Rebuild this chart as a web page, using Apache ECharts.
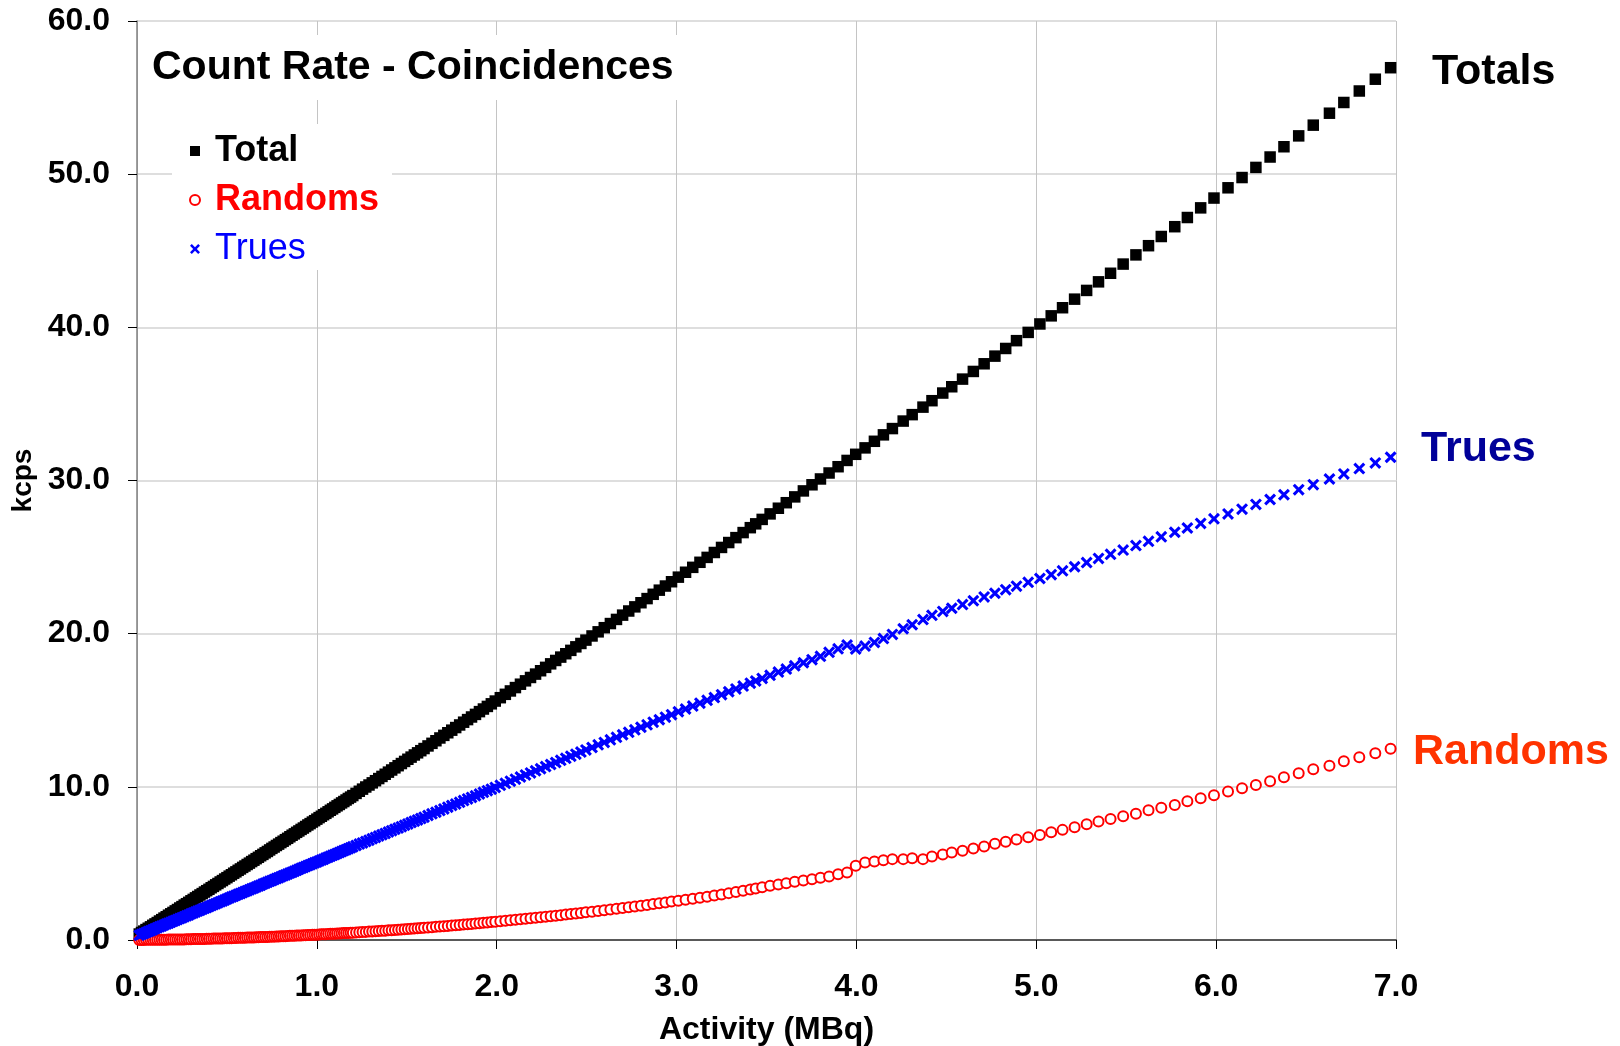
<!DOCTYPE html>
<html>
<head>
<meta charset="utf-8">
<title>Count Rate - Coincidences</title>
<script src="https://cdn.jsdelivr.net/npm/echarts@6.0.0/dist/echarts.min.js"></script>
<style>
html,body{margin:0;padding:0;background:#fff;}
#chart{width:1620px;height:1046px;}
</style>
</head>
<body>
<div id="chart"></div>
<script>
//activity (MBq) of each measurement
var activity=[
0.0125,0.025,0.0375,0.05,0.0625,0.075,0.0875,0.1,
0.1125,0.125,0.1375,0.15,0.1625,0.175,0.1875,0.2,
0.2125,0.225,0.2375,0.25,0.2625,0.275,0.2875,0.3,
0.3125,0.325,0.3375,0.35,0.3625,0.375,0.3875,0.4,
0.4125,0.425,0.4375,0.45,0.4625,0.475,0.4875,0.5,
0.5125,0.525,0.5375,0.55,0.5625,0.575,0.5875,0.6,
0.6125,0.625,0.6375,0.65,0.6625,0.675,0.6875,0.7,
0.7125,0.725,0.7375,0.75,0.7625,0.775,0.7875,0.8,
0.8125,0.825,0.8375,0.85,0.8625,0.875,0.8875,0.9,
0.9125,0.925,0.9375,0.95,0.9625,0.975,0.9875,1.0,
1.0125,1.025,1.0375,1.05,1.0625,1.075,1.0875,1.1,
1.1125,1.125,1.1375,1.15,1.1625,1.175,1.1875,1.2,
1.218,1.236,1.254,1.272,1.29,1.308,1.326,1.344,1.362,1.38,1.398,1.416,1.434,1.452,1.47,1.488,1.506,1.524,1.542,1.56,1.578,1.596,
1.618,1.64,1.662,1.684,1.706,1.728,1.75,1.772,1.794,1.816,1.838,1.86,1.882,1.904,1.926,1.948,1.97,1.992,
2.02,2.048,2.076,2.104,2.132,2.16,2.188,2.216,2.244,2.272,2.3,2.328,2.356,2.384,2.412,2.44,2.468,2.496,
2.53,2.564,2.598,2.632,2.666,2.7,2.734,2.768,2.802,2.836,2.87,2.904,2.938,2.972,
3.01,3.05,3.09,3.13,3.17,3.21,3.25,3.29,3.33,3.37,3.41,3.44,
3.476,3.52,3.566,3.61,3.657,3.705,3.753,3.8,3.848,3.898,3.948,3.996,4.048,4.1,4.15,4.2,4.26,4.31,4.37,4.42,4.48,4.53,4.59,4.65,4.71,4.77,
4.83,4.89,4.955,
5.02,5.083,5.146,5.213,5.28,5.346,5.413,5.483,5.554,5.624,5.695,5.77,5.84,5.914,5.988,6.066,6.144,6.221,6.3,6.377,6.459,6.54,6.63,6.71,6.796,6.885,6.97
];
//kcps
var totals=[
0.39,0.49,0.58,0.68,0.77,0.86,0.96,1.05,1.14,1.24,
1.33,1.43,1.52,1.62,1.71,1.80,1.90,1.99,2.09,2.18,
2.28,2.37,2.46,2.56,2.65,2.75,2.84,2.94,3.03,3.13,
3.22,3.31,3.41,3.50,3.60,3.69,3.79,3.88,3.98,4.07,
4.17,4.26,4.36,4.45,4.55,4.64,4.74,4.83,4.93,5.02,
5.12,5.21,5.31,5.40,5.50,5.59,5.69,5.78,5.88,5.98,
6.07,6.17,6.26,6.36,6.45,6.55,6.64,6.74,6.84,6.93,
7.03,7.12,7.22,7.31,7.41,7.51,7.60,7.70,7.79,7.89,
7.99,8.08,8.18,8.27,8.37,8.47,8.56,8.66,8.76,8.85,
8.95,9.04,9.14,9.24,9.33,9.43,
9.57,9.71,9.85,9.99,10.12,10.26,10.40,10.54,10.68,10.82,10.96,11.10,11.24,11.38,11.52,11.66,11.80,11.94,12.08,12.22,12.36,12.50,
12.67,12.84,13.01,13.19,13.36,13.53,13.70,13.87,14.04,14.22,14.39,14.56,14.73,14.91,15.08,15.25,15.42,15.60,
15.82,16.04,16.26,16.48,16.70,16.92,17.14,17.36,17.58,17.80,18.03,18.25,18.47,18.69,18.91,19.14,19.36,19.58,
19.85,20.12,20.39,20.66,20.93,21.21,21.48,21.75,22.02,22.29,22.57,22.84,23.11,23.39,
23.69,24.01,24.33,24.66,24.98,25.30,25.63,25.95,26.27,26.60,26.92,27.17,
27.46,27.82,28.19,28.55,28.93,29.32,29.72,30.10,30.49,30.90,31.31,31.71,32.13,32.56,32.98,33.39,33.88,34.30,34.79,35.21,35.71,36.12,36.62,37.12,37.62,38.12,
38.62,39.13,39.67,
40.22,40.75,41.28,41.84,42.41,42.97,43.53,44.13,44.73,45.33,45.93,46.57,47.17,47.80,48.44,49.11,49.78,50.44,51.12,51.79,52.50,53.20,53.98,54.68,55.43,56.20,56.95
];
var randoms=[
0.00,0.00,0.00,0.01,0.01,0.01,0.01,0.01,0.01,0.02,
0.02,0.02,0.02,0.03,0.03,0.03,0.03,0.04,0.04,0.04,
0.04,0.05,0.05,0.05,0.06,0.06,0.06,0.07,0.07,0.07,
0.08,0.08,0.08,0.09,0.09,0.10,0.10,0.10,0.11,0.11,
0.12,0.12,0.13,0.13,0.14,0.14,0.15,0.15,0.16,0.16,
0.17,0.17,0.18,0.18,0.19,0.19,0.20,0.20,0.21,0.22,
0.22,0.23,0.23,0.24,0.25,0.25,0.26,0.27,0.27,0.28,
0.29,0.29,0.30,0.31,0.31,0.32,0.33,0.34,0.34,0.35,
0.36,0.37,0.37,0.38,0.39,0.40,0.40,0.41,0.42,0.43,
0.44,0.45,0.45,0.46,0.47,0.48,
0.49,0.51,0.52,0.53,0.55,0.56,0.57,0.59,0.60,0.61,0.63,0.64,0.66,0.67,0.69,0.70,0.72,0.73,0.75,0.76,0.78,0.80,
0.82,0.84,0.86,0.88,0.90,0.92,0.94,0.96,0.98,1.01,1.03,1.05,1.07,1.10,1.12,1.14,1.17,1.19,
1.22,1.25,1.29,1.32,1.35,1.38,1.42,1.45,1.48,1.52,1.55,1.59,1.62,1.66,1.70,1.73,1.77,1.81,
1.85,1.90,1.95,1.99,2.04,2.09,2.14,2.19,2.24,2.29,2.35,2.40,2.45,2.51,
2.57,2.63,2.70,2.76,2.83,2.90,2.97,3.06,3.14,3.22,3.30,3.37,
3.45,3.54,3.62,3.71,3.80,3.88,3.97,4.06,4.14,4.30,4.40,4.84,5.06,5.12,5.21,5.28,5.28,5.34,5.28,5.45,5.58,5.71,5.82,5.97,6.10,6.28,
6.42,6.56,6.71,
6.86,7.04,7.19,7.36,7.56,7.73,7.90,8.08,8.25,8.47,8.64,8.82,9.06,9.26,9.45,9.69,9.91,10.12,10.37,10.63,10.88,11.15,11.38,11.67,11.93,12.19,12.49
];
var trues=[
0.31,0.37,0.43,0.49,0.55,0.61,0.67,0.74,0.80,0.86,
0.92,0.98,1.04,1.10,1.16,1.22,1.28,1.34,1.40,1.46,
1.52,1.58,1.64,1.71,1.77,1.83,1.89,1.95,2.01,2.07,
2.13,2.19,2.25,2.31,2.37,2.43,2.49,2.55,2.61,2.68,
2.74,2.80,2.86,2.92,2.98,3.04,3.10,3.16,3.22,3.28,
3.34,3.40,3.46,3.52,3.58,3.65,3.71,3.77,3.83,3.89,
3.95,4.01,4.07,4.13,4.19,4.25,4.31,4.37,4.43,4.49,
4.55,4.62,4.68,4.74,4.80,4.86,4.92,4.98,5.04,5.10,
5.16,5.22,5.28,5.35,5.41,5.47,5.53,5.59,5.65,5.71,
5.77,5.84,5.90,5.96,6.02,6.08,
6.17,6.26,6.34,6.43,6.52,6.61,6.70,6.79,6.87,6.96,7.05,7.14,7.23,7.31,7.40,7.49,7.58,7.67,7.76,7.84,7.93,8.02,
8.13,8.24,8.34,8.45,8.56,8.67,8.78,8.88,8.99,9.10,9.21,9.31,9.42,9.53,9.64,9.75,9.85,9.96,
10.10,10.23,10.37,10.50,10.64,10.78,10.91,11.05,11.18,11.32,11.46,11.59,11.73,11.86,12.00,12.13,12.27,12.41,
12.57,12.74,12.90,13.07,13.23,13.40,13.56,13.72,13.89,14.05,14.22,14.38,14.55,14.71,
14.90,15.08,15.27,15.46,15.65,15.83,16.02,16.21,16.39,16.58,16.77,16.91,
17.08,17.28,17.49,17.69,17.90,18.10,18.30,18.52,18.78,19.01,19.26,19.00,19.19,19.43,19.68,19.95,20.32,20.58,20.92,21.20,21.45,21.66,21.90,22.15,22.40,22.64,
22.87,23.10,23.35,
23.60,23.85,24.10,24.37,24.64,24.91,25.18,25.46,25.75,26.03,26.32,26.62,26.90,27.20,27.50,27.82,28.13,28.44,28.76,29.07,29.40,29.73,30.10,30.43,30.78,31.15,31.52
];
var seriesNames=['Total','Randoms','Trues'];
//curve labels at the right of the plot
var sideLabels=['Totals','Trues','Randoms'];

var fontArial='"Liberation Sans", Arial, Helvetica, sans-serif';
//x mark
var crossPath='path://M0,1.8L1.8,0L5,3.2L8.2,0L10,1.8L6.8,5L10,8.2L8.2,10L5,6.8L1.8,10L0,8.2L3.2,5Z';

function toPoints(ys){
    var arr=[];
    var n=Math.min(activity.length,ys.length);
    for(var i=0;i<n;i++){
        arr.push([activity[i],ys[i]]);
    }
    return arr;
}

function createChart(){
    var chart=echarts.init(document.getElementById('chart'));
    var option={
        animation:false,
        backgroundColor:'#fff',
        textStyle:{fontFamily:fontArial},
        title:{
            text:'Count Rate - Coincidences',
            left:140,
            top:35,
            padding:[8,12,8,12],
            backgroundColor:'#fff',
            textStyle:{fontFamily:fontArial,fontSize:41,fontWeight:'bold',color:'#000',lineHeight:49}
        },
        legend:{
            orient:'vertical',
            left:172,
            top:124,
            padding:[6,13,0,17],
            backgroundColor:'#fff',
            itemWidth:10,
            itemHeight:10,
            itemGap:7,
            selectedMode:false,
            textStyle:{fontFamily:fontArial,fontSize:36,lineHeight:42,padding:[0,0,0,10]},
            data:[
                {name:seriesNames[0],icon:'rect',textStyle:{color:'#000',fontWeight:'bold'}},
                {name:seriesNames[1],icon:'circle',textStyle:{color:'#ff0000',fontWeight:'bold'}},
                {name:seriesNames[2],icon:crossPath,textStyle:{color:'#0000ff',fontWeight:'normal'}}
            ]
        },
        //fixed plot box, no auto shrinking for the labels
        grid:{left:137,top:21,width:1259,height:919,containLabel:false,outerBoundsMode:'none'},
        xAxis:{
            type:'value',
            min:0,
            max:7,
            interval:1,
            name:'Activity (MBq)',
            nameLocation:'middle',
            nameGap:74,
            nameTextStyle:{fontFamily:fontArial,fontSize:32,fontWeight:'bold',color:'#000'},
            axisLine:{show:true,onZero:false,lineStyle:{color:'#595959',width:2}},
            axisTick:{show:true,inside:false,length:9,lineStyle:{color:'#000',width:1}},
            axisLabel:{
                margin:31,
                fontFamily:fontArial,fontSize:32,fontWeight:'bold',color:'#000',
                formatter:function(v){return v.toFixed(1);}
            },
            splitLine:{show:true,lineStyle:{color:'#c4c4c4',width:1}}
        },
        yAxis:{
            type:'value',
            min:0,
            max:60,
            interval:10,
            name:'kcps',
            nameLocation:'middle',
            nameGap:93,
            nameTextStyle:{fontFamily:fontArial,fontSize:28,fontWeight:'bold',color:'#000'},
            axisLine:{show:true,onZero:false,lineStyle:{color:'#808080',width:1.5}},
            axisTick:{show:true,inside:false,length:9,lineStyle:{color:'#000',width:1}},
            axisLabel:{
                margin:27,
                fontFamily:fontArial,fontSize:32,fontWeight:'bold',color:'#000',
                formatter:function(v){return v.toFixed(1);}
            },
            splitLine:{show:true,lineStyle:{color:'#dedede',width:2}}
        },
        graphic:[
            {type:'text',x:1432,y:72,style:{text:sideLabels[0],fill:'#000',font:'bold 43px '+fontArial,verticalAlign:'middle'}},
            {type:'text',x:1421,y:449,style:{text:sideLabels[1],fill:'#000099',font:'bold 43px '+fontArial,verticalAlign:'middle'}},
            {type:'text',x:1413,y:752,style:{text:sideLabels[2],fill:'#ff3300',font:'bold 43px '+fontArial,verticalAlign:'middle'}}
        ],
        series:[
            {
                name:seriesNames[0],
                type:'scatter',
                symbol:'rect',
                symbolSize:11.5,
                clip:false,
                itemStyle:{color:'#000',opacity:1},
                data:toPoints(totals)
            },
            {
                name:seriesNames[1],
                type:'scatter',
                symbol:'circle',
                symbolSize:10,
                clip:false,
                itemStyle:{color:'#fff',borderColor:'#ff0000',borderWidth:2,opacity:1},
                data:toPoints(randoms)
            },
            {
                name:seriesNames[2],
                type:'scatter',
                symbol:crossPath,
                symbolSize:12,
                clip:false,
                itemStyle:{color:'#0000ff',opacity:1},
                data:toPoints(trues)
            }
        ]
    };
    chart.setOption(option);
    return chart;
}
createChart();
</script>
</body>
</html>
